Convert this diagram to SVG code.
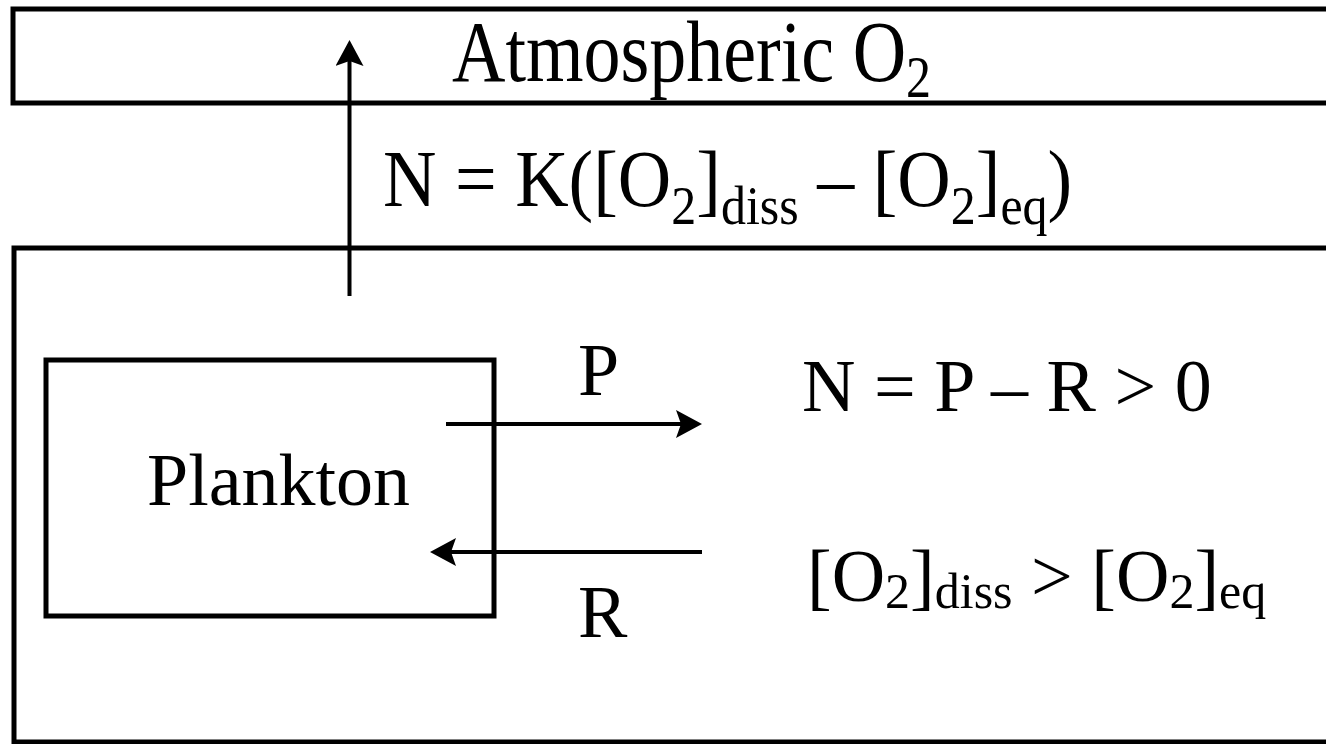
<svg xmlns="http://www.w3.org/2000/svg" width="1326" height="744" viewBox="0 0 1326 744">
<style>
.box{fill:none;stroke:#000;stroke-width:5}
.ln{stroke:#000;stroke-width:4;fill:none}
text{font-family:"Liberation Serif","Times New Roman",serif;fill:#000;font-size:74px}
.sub{font-size:50px}
</style>
<defs>
<marker id="ah" markerUnits="userSpaceOnUse" viewBox="0 0 26 28" markerWidth="26" markerHeight="28" refX="14" refY="14" orient="auto">
<path d="M26,14 L0,0 L5,14 L0,28 Z" fill="#000"/>
</marker>
</defs>
<g id="atmosphere">
<rect class="box" x="13" y="9" width="1330" height="94"/>
<text x="452" y="81" transform="translate(0,81) scale(1,1.17) translate(0,-81)">Atmospheric O<tspan class="sub" dy="14">2</tspan></text>
</g>
<g id="ocean">
<rect class="box" x="14" y="248" width="1330" height="494"/>
</g>
<g id="plankton">
<rect class="box" x="46" y="360" width="448" height="256"/>
<text x="147" y="505">Plankton</text>
</g>
<g id="connectors">
<line class="ln" x1="349.5" y1="296" x2="349.5" y2="52" marker-end="url(#ah)"/>
<line class="ln" x1="446" y1="424" x2="690" y2="424" marker-end="url(#ah)"/>
<line class="ln" x1="702" y1="552" x2="442" y2="552" marker-end="url(#ah)"/>
</g>
<g id="labels">
<text x="383" y="206" transform="translate(0,206) scale(1,1.08) translate(0,-206)">N = K([O<tspan class="sub" dy="17">2</tspan><tspan dy="-17">]</tspan><tspan class="sub" dy="17">diss</tspan><tspan dy="-17"> – [O</tspan><tspan class="sub" dy="17">2</tspan><tspan dy="-17">]</tspan><tspan class="sub" dy="17">eq</tspan><tspan dy="-17">)</tspan></text>
<text x="578" y="395">P</text>
<text x="578" y="637">R</text>
<text x="802" y="411">N = P – R &gt; 0</text>
<text x="807" y="601">[O<tspan class="sub" dy="7">2</tspan><tspan dy="-7">]</tspan><tspan class="sub" dy="7">diss</tspan><tspan dy="-7"> &gt; [O</tspan><tspan class="sub" dy="7">2</tspan><tspan dy="-7">]</tspan><tspan class="sub" dy="7">eq</tspan></text>
</g>
</svg>
